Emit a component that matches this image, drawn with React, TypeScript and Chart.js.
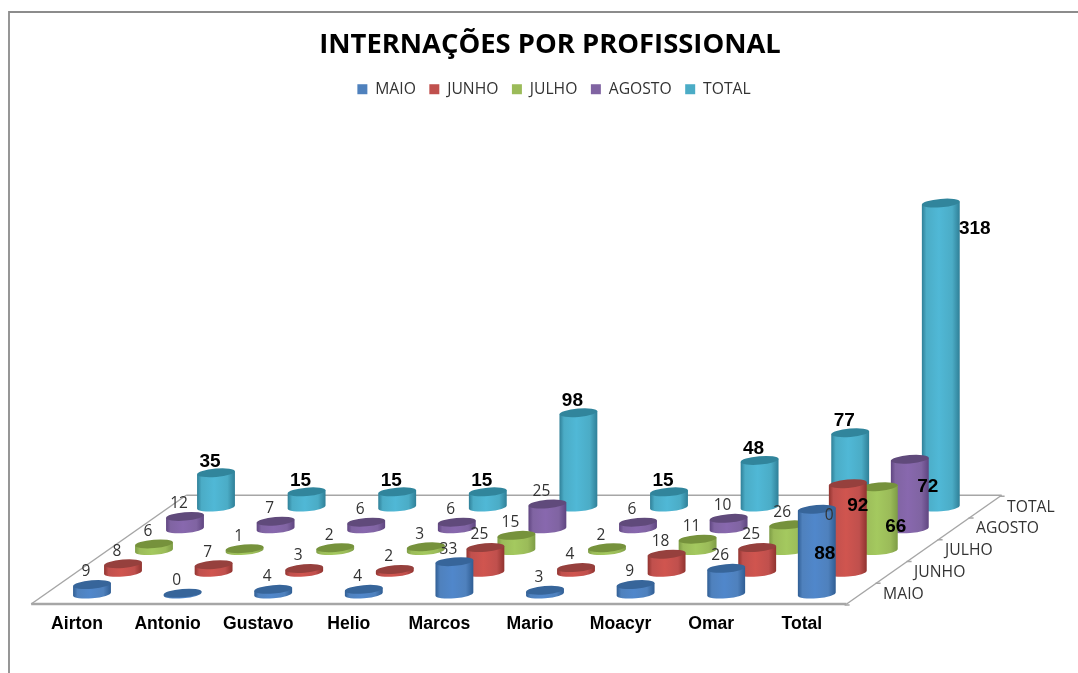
import React, { useEffect, useRef } from "react";
import { Chart, registerables } from "chart.js";

Chart.register(...registerables);

const categories = ["Airton", "Antonio", "Gustavo", "Helio", "Marcos", "Mario", "Moacyr", "Omar", "Total"];
const seriesNames = ["MAIO", "JUNHO", "JULHO", "AGOSTO", "TOTAL"];
const maio = [9, 0, 4, 4, 33, 3, 9, 26, 88];
const junho = [8, 7, 3, 2, 25, 4, 18, 25, 92];
const julho = [6, 1, 2, 3, 15, 2, 11, 26, 66];
const agosto = [12, 7, 6, 6, 25, 6, 10, 0, 72];
const total = [35, 15, 15, 15, 98, 15, 48, 77, 318];
const seriesValues = [maio, junho, julho, agosto, total];

const legendColors = ["#4F81BD", "#C0504D", "#9BBB59", "#8064A2", "#4BACC6"];
const capColors = ["#37659A", "#96403D", "#76923C", "#604A7B", "#31859C"];
const brightColors = ["#5087CB", "#D0554F", "#A4C95F", "#8868AE", "#50B8D6"];
const edgeColors = ["#2F5D93", "#90332F", "#7D9C45", "#5F4580", "#2F7F97"];

// Oblique projection of the 3D floor, expressed in scale units
const PX_PER_CAT = 90.6;
const PX_PER_UNIT = 0.953;
const DEPTH_X = 31 / PX_PER_CAT;
const DEPTH_Y = 21.75 / PX_PER_UNIT;
const PAD_LEFT = 22;
const FIRST_CENTER = 92;
const X_MIN = (PAD_LEFT - FIRST_CENTER) / PX_PER_CAT;
const X_MAX = (1078 - FIRST_CENTER) / PX_PER_CAT;
const Y_MIN = -0.5 * DEPTH_Y;

// Manually moved data labels in the reference: "series,category": [dx, dy]
const labelShift: Record<string, [number, number]> = {
  "0,8": [14, 56.5],
  "1,8": [16, 34],
  "2,8": [23, 52],
  "3,8": [24, 39],
  "4,8": [40, 37.5],
  "3,7": [16, 0],
};

const PLAIN_FONT = "15.5px 'Open Sans'";
const AXIS_FONT = "15.7px 'Open Sans'";
const BOLD_FONT = "bold 19px 'Liberation Sans'";

const cylinderPlugin = {
  id: "cylinders",
  afterLayout(chart: any) {
    chart.legend.left += 4;
    chart.legend.right += 4;
  },
  beforeDraw(chart: any) {
    const { ctx, width, height } = chart;
    ctx.save();
    ctx.strokeStyle = "#8C8C8C";
    ctx.lineWidth = 1.8;
    ctx.beginPath();
    ctx.moveTo(9, height);
    ctx.lineTo(9, 12);
    ctx.lineTo(width, 12);
    ctx.stroke();
    ctx.restore();
  },
  beforeDatasetsDraw(chart: any) {
    const { ctx, scales } = chart;
    const px = (c: number, d: number) => scales.x.getPixelForValue(c + d * DEPTH_X);
    const py = (d: number) => scales.y.getPixelForValue(d * DEPTH_Y);
    const line = (a: [number, number], b: [number, number], w: number) => {
      ctx.lineWidth = w;
      ctx.beginPath();
      ctx.moveTo(px(a[0], a[1]), py(a[1]));
      ctx.lineTo(px(b[0], b[1]), py(b[1]));
      ctx.stroke();
    };
    ctx.save();
    ctx.strokeStyle = "#A6A6A6";
    line([-0.5, 4.5], [8.5, 4.5], 1.5);
    line([-0.5, -0.5], [-0.5, 4.5], 1.5);
    line([8.5, -0.5], [8.5, 4.5], 1.5);
    line([-0.5, -0.5], [8.5, -0.5], 2.5);
    for (let d = -0.5; d <= 4.5; d += 1) {
      const x = px(8.5, d);
      const y = py(d);
      ctx.lineWidth = 1.5;
      ctx.beginPath();
      ctx.moveTo(x - 2, y + 1);
      ctx.lineTo(x + 3, y + 1);
      ctx.stroke();
    }
    ctx.fillStyle = "#333333";
    ctx.font = AXIS_FONT;
    ctx.textAlign = "left";
    ctx.textBaseline = "middle";
    seriesNames.forEach((name, d) => {
      ctx.fillText(name, px(8.5, d) + 21, py(d) + 1);
    });
    ctx.restore();
  },
  beforeDatasetDraw(chart: any, args: any) {
    const { ctx } = chart;
    const s = args.index;
    const tilt = -0.085;
    const ry = 4.2;
    args.meta.data.forEach((el: any) => {
      const rx = el.width / 2;
      const cx = el.x;
      const top = el.y;
      const base = el.base + 1;
      const dx = rx * Math.cos(tilt);
      const dy = rx * Math.sin(tilt);
      const g = ctx.createLinearGradient(cx - rx, 0, cx + rx, 0);
      g.addColorStop(0, edgeColors[s]);
      g.addColorStop(0.12, legendColors[s]);
      g.addColorStop(0.45, brightColors[s]);
      g.addColorStop(0.8, legendColors[s]);
      g.addColorStop(1, edgeColors[s]);
      ctx.save();
      ctx.fillStyle = g;
      ctx.beginPath();
      ctx.moveTo(cx - dx, top - dy);
      ctx.lineTo(cx - dx, base - dy);
      ctx.ellipse(cx, base, rx, ry, tilt, Math.PI, 0, true);
      ctx.lineTo(cx + dx, top + dy);
      ctx.closePath();
      ctx.fill();
      ctx.fillStyle = capColors[s];
      ctx.beginPath();
      ctx.ellipse(cx, top, rx, ry, tilt, 0, Math.PI * 2);
      ctx.fill();
      ctx.restore();
    });
    return false;
  },
  afterDatasetsDraw(chart: any) {
    const { ctx } = chart;
    ctx.save();
    ctx.textAlign = "center";
    ctx.textBaseline = "middle";
    seriesValues.forEach((values, s) => {
      const meta = chart.getDatasetMeta(s);
      values.forEach((v, c) => {
        const el: any = meta.data[c];
        const bold = s === 4 || c === 8;
        const shift = labelShift[`${s},${c}`] || [0, 0];
        ctx.font = bold ? BOLD_FONT : PLAIN_FONT;
        ctx.fillStyle = bold ? "#000000" : "#333333";
        ctx.fillText(String(v), el.x - 6 + shift[0], el.y - (bold ? 11.5 : 12.5) + shift[1]);
      });
    });
    ctx.restore();
  },
};

export default function App() {
  const ref = useRef<HTMLCanvasElement>(null);
  useEffect(() => {
    const chart = new Chart(ref.current as HTMLCanvasElement, {
      type: "bar",
      data: {
        datasets: seriesNames.map((name, s) => ({
          label: name,
          backgroundColor: legendColors[s],
          borderWidth: 0,
          barThickness: 38,
          grouped: false,
          data: seriesValues[s].map((v, c) => ({
            x: c + s * DEPTH_X,
            y: [s * DEPTH_Y, s * DEPTH_Y + v],
          })),
        })),
      } as any,
      options: {
        responsive: false,
        animation: false,
        layout: { padding: { left: PAD_LEFT, top: 0, right: 0, bottom: 0 } },
        plugins: {
          tooltip: { enabled: false },
          title: {
            display: true,
            text: "INTERNAÇÕES POR PROFISSIONAL",
            color: "#000000",
            font: { family: "'Open Sans'", size: 27.4, weight: "bold" },
            padding: { top: 29, bottom: 6 },
          },
          legend: {
            display: true,
            position: "top",
            labels: {
              boxWidth: 10,
              boxHeight: 10,
              color: "#333333",
              padding: 13.5,
              font: { family: "'Open Sans'", size: 15.7 },
            },
          },
        },
        scales: {
          x: {
            type: "linear",
            offset: false,
            min: X_MIN,
            max: X_MAX,
            grid: { display: false },
            border: { display: false },
            afterBuildTicks: (s: any) => {
              s.ticks = categories.map((_, i) => ({ value: i }));
            },
            afterFit: (s: any) => {
              s.height = 69;
            },
            ticks: {
              autoSkip: false,
              maxRotation: 0,
              labelOffset: -15,
              padding: 2,
              color: "#000000",
              font: { family: "'Liberation Sans'", size: 17.6, weight: "bold" },
              callback: (v: any) => categories[v] ?? "",
            },
          },
          y: { display: false, min: Y_MIN, max: 400 },
        },
      } as any,
      plugins: [cylinderPlugin as any],
    });
    (chart.options as any).scales.y.max = Y_MIN + chart.scales.y.height / PX_PER_UNIT;
    chart.update();
    return () => chart.destroy();
  }, []);
  return (
    <div style={{ position: "fixed", left: 0, top: 0, width: 1078, height: 673 }}>
      <canvas ref={ref} width={1078} height={673} style={{ display: "block" }} />
    </div>
  );
}
